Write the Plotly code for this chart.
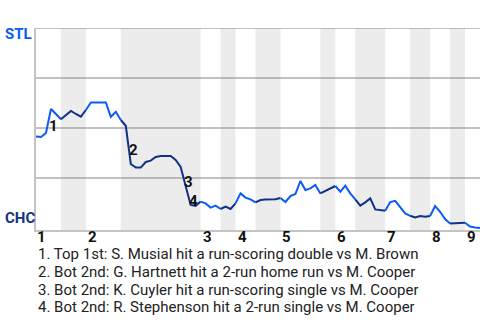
import plotly.graph_objects as go

# Win probability (STL %) after each plate appearance
wp = [45.7, 45.5, 47.5, 59.5, 57, 54.4, 56.5, 58.5, 57, 55.7,
      59, 62.8, 62.8, 62.8, 62.8, 55.6, 58.1, 54, 51.1, 32,
      30.2, 30.2, 33, 33.7, 35.5, 36, 36, 36, 34, 30.5,
      21, 11.5, 11, 13.2, 12.3, 10.2, 11.2, 9.5, 10.7, 9.5,
      12.3, 17.3, 15.2, 14.3, 12.8, 14, 14.3, 14.5, 14.4, 15,
      13, 16, 17, 23.5, 19, 19.8, 21.5, 17.3, 18.6, 19.8,
      21, 18.2, 21.2, 17.3, 14.3, 11.2, 12.8, 14.8, 9.3, 9,
      8.6, 13, 13.6, 10.6, 7.3, 6.1, 5.3, 6, 5.6, 6,
      11, 8.1, 4.5, 2.3, 2.5, 2.6, 2.6, 0.7, 0.3, 0]

# Plate-appearance index where each half inning starts (top 1st .. top 9th), plus end
half_starts = [0, 5, 10, 17, 33, 37, 40, 44, 49, 57, 60, 64, 70, 75, 79, 83, 86, 89]
innings = ["1", "2", "3", "4", "5", "6", "7", "8", "9"]
grid_levels = [25, 50, 75, 100]

event_idx = [3, 19, 30, 31]
event_labels = ["1", "2", "3", "4"]
event_text = [
    "1. Top 1st: S. Musial hit a run-scoring double vs M. Brown",
    "2. Bot 2nd: G. Hartnett hit a 2-run home run vs M. Cooper",
    "3. Bot 2nd: K. Cuyler hit a run-scoring single vs M. Cooper",
    "4. Bot 2nd: R. Stephenson hit a 2-run single vs M. Cooper",
]

AWAY = "#0b5cf2"
HOME = "#0f3287"
FONT = "Roboto"
FS = 15

fig = go.Figure()
shapes = []
n_half = len(half_starts) - 1
for h in range(n_half):
    a, b = half_starts[h], half_starts[h + 1]
    xs = list(range(a, b + 1))
    ys = wp[a:b + 1]
    fig.add_trace(go.Scatter(x=xs, y=ys, mode="lines",
                             line=dict(color=AWAY if h % 2 == 0 else HOME, width=2),
                             hoverinfo="skip", showlegend=False))
    if h % 2 == 1:
        shapes.append(dict(type="rect", xref="x", yref="paper", x0=a, x1=b, y0=0, y1=1,
                           fillcolor="#ececec", line=dict(width=0), layer="below"))
for g in grid_levels:
    shapes.append(dict(type="line", xref="paper", yref="y", x0=0, x1=1, y0=g, y1=g,
                       line=dict(color="#858585", width=1), layer="below"))

annotations = []
annotations.append(dict(text="STL", xref="paper", yref="paper", x=-33 / 444, y=0.970,
                        xanchor="left", yanchor="middle", showarrow=False,
                        font=dict(family=FONT, size=FS, color=AWAY, weight="bold")))
annotations.append(dict(text="CHC", xref="paper", yref="paper", x=-33 / 444, y=0.0594,
                        xanchor="left", yanchor="middle", showarrow=False,
                        font=dict(family=FONT, size=FS, color=HOME, weight="bold")))
for i, lab in zip(event_idx, event_labels):
    annotations.append(dict(text=lab, x=i - 0.5, y=(wp[i - 1] + wp[i]) / 2,
                            xanchor="center", yanchor="middle", showarrow=False,
                            xshift=5, yshift=-5,
                            font=dict(family=FONT, size=FS, color="#111", weight="bold")))
inning_starts = half_starts[0:-1:2]
for s, lab in zip(inning_starts, innings):
    annotations.append(dict(text=lab, x=s, xref="x", yref="paper", y=(230 - 237) / 202,
                            xanchor="left", yanchor="middle", showarrow=False,
                            height=14, valign="middle",
                            xshift=-1 if s == 0 else 0,
                            font=dict(family=FONT, size=FS, color="#111", weight="bold")))
line_y = [253.3, 271, 289.3, 306.7]
for t, py in zip(event_text, line_y):
    annotations.append(dict(text=t, xref="paper", yref="paper", x=0, y=(230 - py) / 202,
                            xanchor="left", yanchor="middle", showarrow=False,
                            height=17, valign="middle",
                            font=dict(family=FONT, size=FS, color="#222")))

fig.update_layout(
    width=480, height=320,
    margin=dict(l=36, r=0, t=28, b=90),
    paper_bgcolor="white", plot_bgcolor="white",
    shapes=shapes, annotations=annotations,
    xaxis=dict(range=[0, 89], showgrid=False, zeroline=False, showline=True,
               linecolor="#c4c4c4", linewidth=1.5, ticks="", showticklabels=False),
    yaxis=dict(range=[-1, 100], showticklabels=False, showgrid=False, zeroline=False,
               showline=True, linecolor="#c4c4c4", linewidth=1.5, ticks=""),
)
fig.write_html("out.html")
